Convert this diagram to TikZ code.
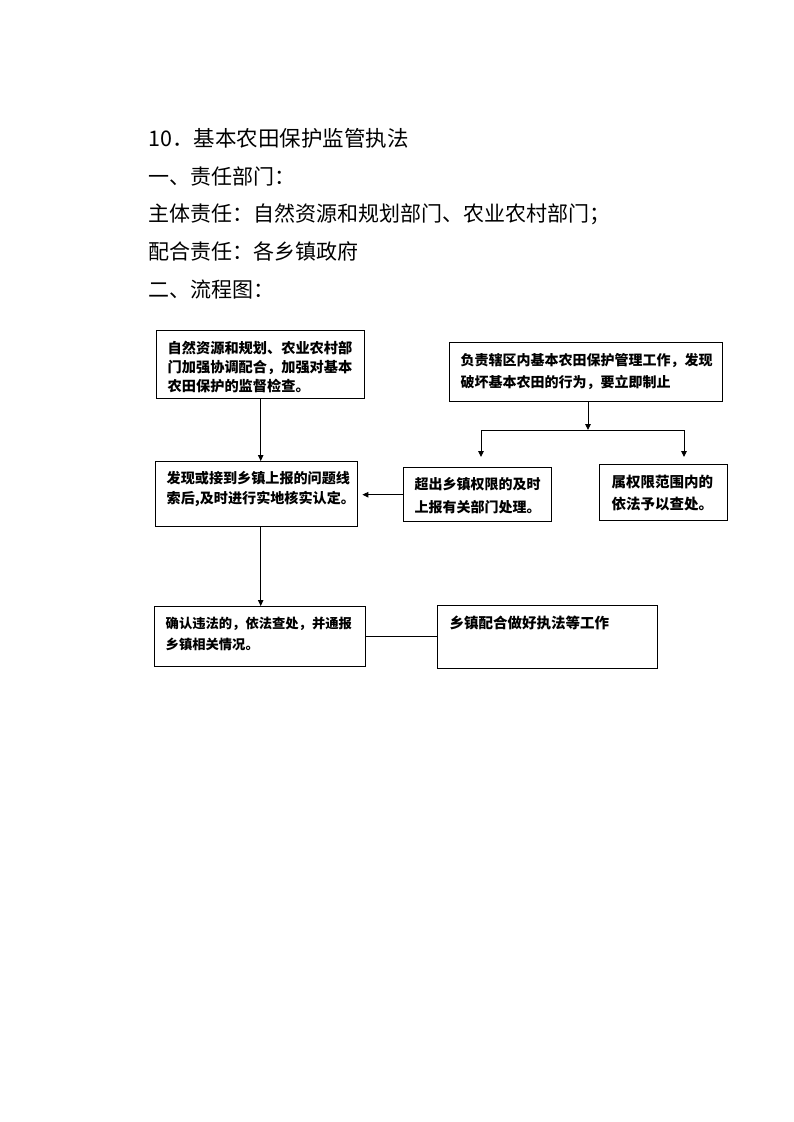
\documentclass[tikz,border=0pt]{standalone}
\usepackage{fontspec}
\setmainfont{Noto Sans CJK SC}
\usetikzlibrary{arrows.meta}
\newcommand\boxtxt[7]{\hspace*{#3}\parbox[t][#2][t]{\dimexpr#1-#3\relax}{\fontsize{#5}{#6}\selectfont\bfseries\rule{0pt}{#4}#7}}
\tikzset{
  frame/.style={draw, line width=1.4pt, inner sep=0pt, anchor=north west},
  head/.style={anchor=base west, inner sep=0pt},
  arr/.style={line width=0.9pt, -{Triangle[length=6pt,width=5.5pt]}},
  plain/.style={line width=0.9pt}
}
\begin{document}
\begin{tikzpicture}[x=1pt,y=-1pt]
\useasboundingbox (0,0) rectangle (793,1122);
\fill[white] (0,0) rectangle (793,1122);

% headings
\node[head] (t0) at (148,146.2) {\fontsize{21.5}{21.5}\selectfont 10．基本农田保护监管执法};
\node[head] (t1) at (148,184) {\fontsize{21}{21}\selectfont 一、责任部门：};
\node[head] (t2) at (148,221.5) {\fontsize{21}{21}\selectfont 主体责任：自然资源和规划部门、农业农村部门；};
\node[head] (t3) at (148,259) {\fontsize{21}{21}\selectfont 配合责任：各乡镇政府};
\node[head] (t4) at (148,297) {\fontsize{21}{21}\selectfont 二、流程图：};

% boxes
\node[frame] (A) at (156,330) {\boxtxt{208pt}{68pt}{11pt}{22.3pt}{14.2pt}{19pt}{自然资源和规划、农业农村部\\门加强协调配合，加强对基本\\农田保护的监督检查。}};
\node[frame] (B) at (155,461) {\boxtxt{202pt}{65pt}{11pt}{21.3pt}{14.1pt}{20pt}{发现或接到乡镇上报的问题线\\索后,及时进行实地核实认定。}};
\node[frame] (C) at (449,342) {\boxtxt{273pt}{59pt}{11pt}{22.3pt}{14pt}{22pt}{负责辖区内基本农田保护管理工作，发现\\破坏基本农田的行为，要立即制止}};
\node[frame] (D) at (403,467) {\boxtxt{148pt}{54pt}{11pt}{21.3pt}{14pt}{23pt}{超出乡镇权限的及时\\上报有关部门处理。}};
\node[frame] (E) at (599,464) {\boxtxt{128pt}{56pt}{12pt}{22.3pt}{14.5pt}{22pt}{属权限范围内的\\依法予以查处。}};
\node[frame] (F) at (154,606) {\boxtxt{211pt}{60pt}{11pt}{21.3pt}{13.3pt}{21pt}{确认违法的，依法查处，并通报\\乡镇相关情况。}};
\node[frame] (G) at (437,605) {\boxtxt{220pt}{63pt}{12pt}{22.3pt}{14.5pt}{21pt}{乡镇配合做好执法等工作}};

% junction coordinates
\coordinate (J) at (588,430);
\coordinate (JL) at (481,430);
\coordinate (JR) at (684,430);
\coordinate (TL) at (481,457);
\coordinate (TR) at (684,457);

% connectors
\draw[arr] (A.south) -- (A.south |- B.north);
\draw[arr] (C.south -| J) -- (J);
\draw[plain] (JL) -- (JR);
\draw[arr] (JL) -- (TL);
\draw[arr] (JR) -- (TR);
\draw[arr, shorten >=4pt] (D.west) -- (D.west -| B.east);
\draw[arr] (A.south |- B.south) -- (A.south |- F.north);
\draw[plain] (F.east) -- (F.east -| G.west);
\end{tikzpicture}
\end{document}
